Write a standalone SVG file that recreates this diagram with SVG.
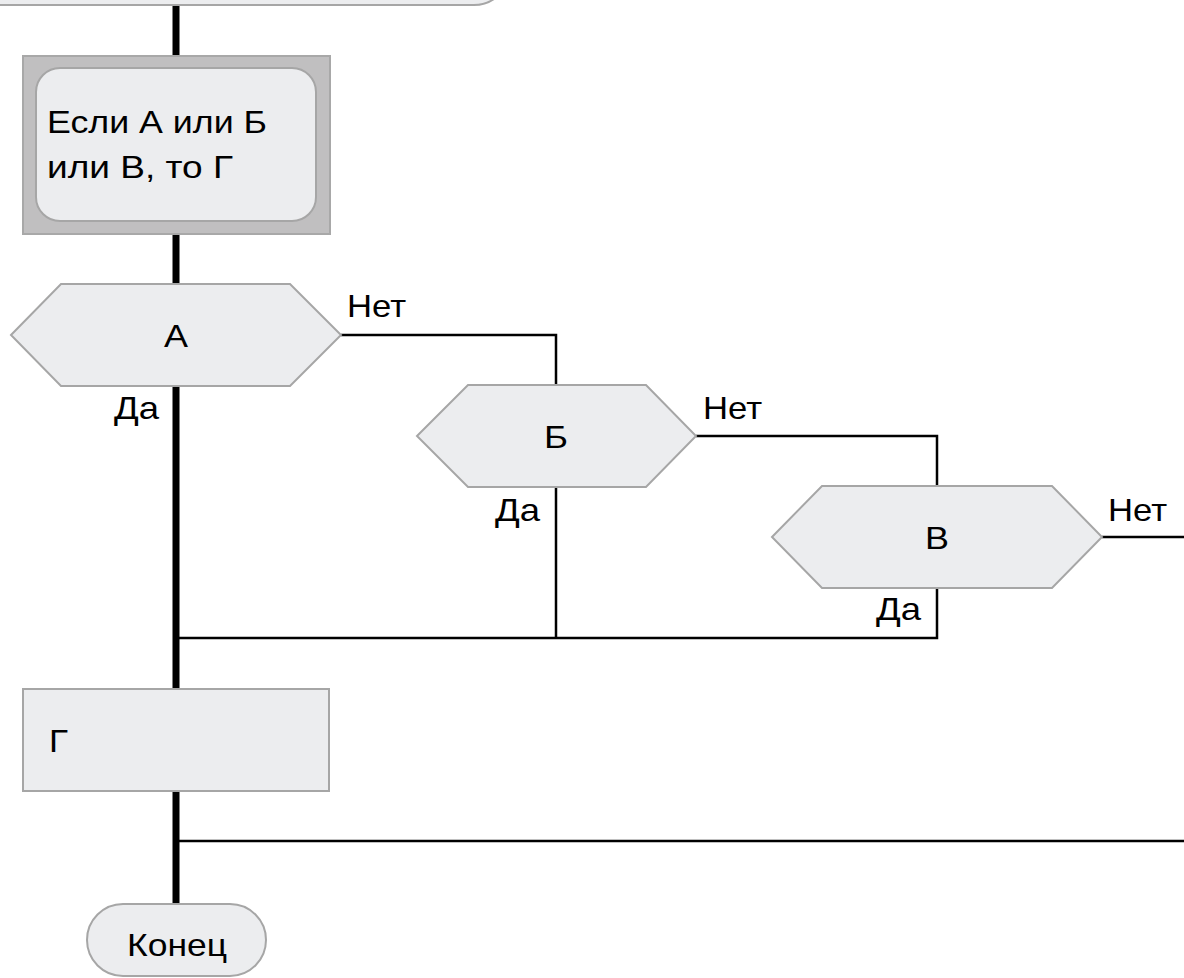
<svg xmlns="http://www.w3.org/2000/svg" width="1184" height="978" viewBox="0 0 1184 978">
<style>
.shape{fill:#ECEDEF;stroke:#A6A6A6;stroke-width:2}
.t{font-family:"Liberation Sans",Arial,sans-serif;font-size:32px;fill:#000}
.c{text-anchor:middle}
.e{text-anchor:end}
.thick{stroke:#000;stroke-width:7;fill:none}
.thin{stroke:#000;stroke-width:2.5;fill:none}
</style>
<rect width="1184" height="978" fill="#fff"/>
<g id="connectors">
<line class="thick" x1="176" y1="5" x2="176" y2="56"/>
<line class="thick" x1="176" y1="234" x2="176" y2="284"/>
<line class="thick" x1="176" y1="386" x2="176" y2="689"/>
<line class="thick" x1="176" y1="791" x2="176" y2="904"/>
<polyline class="thin" points="341,335 556,335 556,385"/>
<polyline class="thin" points="696,436 937,436 937,486"/>
<polyline class="thin" points="1102,537 1184,537"/>
<polyline class="thin" points="556,487 556,638"/>
<polyline class="thin" points="937,588 937,638 176,638"/>
<polyline class="thin" points="176,841 1184,841"/>
<text class="t" x="347" y="317" textLength="59" lengthAdjust="spacingAndGlyphs">Нет</text>
<text class="t e" x="159" y="419" textLength="45" lengthAdjust="spacingAndGlyphs">Да</text>
<text class="t" x="703" y="419" textLength="59" lengthAdjust="spacingAndGlyphs">Нет</text>
<text class="t e" x="540" y="521" textLength="45" lengthAdjust="spacingAndGlyphs">Да</text>
<text class="t" x="1108" y="521" textLength="59" lengthAdjust="spacingAndGlyphs">Нет</text>
<text class="t e" x="921" y="620" textLength="45" lengthAdjust="spacingAndGlyphs">Да</text>
</g>
<g id="start">
<rect class="shape" x="-60" y="-67" width="570" height="72" rx="36" ry="36"/>
</g>
<g id="rule">
<rect x="23" y="56" width="307" height="178" fill="#C0BFC0" stroke="#A8A8A8" stroke-width="2"/>
<rect class="shape" x="36" y="68" width="280" height="153" rx="24" ry="24"/>
<text class="t" x="47" y="133" textLength="220" lengthAdjust="spacingAndGlyphs">Если А или Б</text>
<text class="t" x="47" y="178" textLength="186" lengthAdjust="spacingAndGlyphs">или В, то Г</text>
</g>
<g id="condA">
<polygon class="shape" points="11,335 61,284 290,284 341,335 290,386 61,386"/>
<text class="t c" x="176" y="347" textLength="24" lengthAdjust="spacingAndGlyphs">А</text>
</g>
<g id="condB">
<polygon class="shape" points="417,436 468,385 646,385 696,436 646,487 468,487"/>
<text class="t c" x="556" y="448" textLength="24" lengthAdjust="spacingAndGlyphs">Б</text>
</g>
<g id="condV">
<polygon class="shape" points="772,537 822,486 1052,486 1102,537 1052,588 822,588"/>
<text class="t c" x="937" y="549" textLength="24" lengthAdjust="spacingAndGlyphs">В</text>
</g>
<g id="actionG">
<rect class="shape" x="23" y="689" width="306" height="102"/>
<text class="t" x="49" y="752" textLength="19" lengthAdjust="spacingAndGlyphs">Г</text>
</g>
<g id="end">
<rect class="shape" x="87" y="904" width="179" height="72" rx="36" ry="36"/>
<text class="t c" x="177" y="956" textLength="100" lengthAdjust="spacingAndGlyphs">Конец</text>
</g>
</svg>
